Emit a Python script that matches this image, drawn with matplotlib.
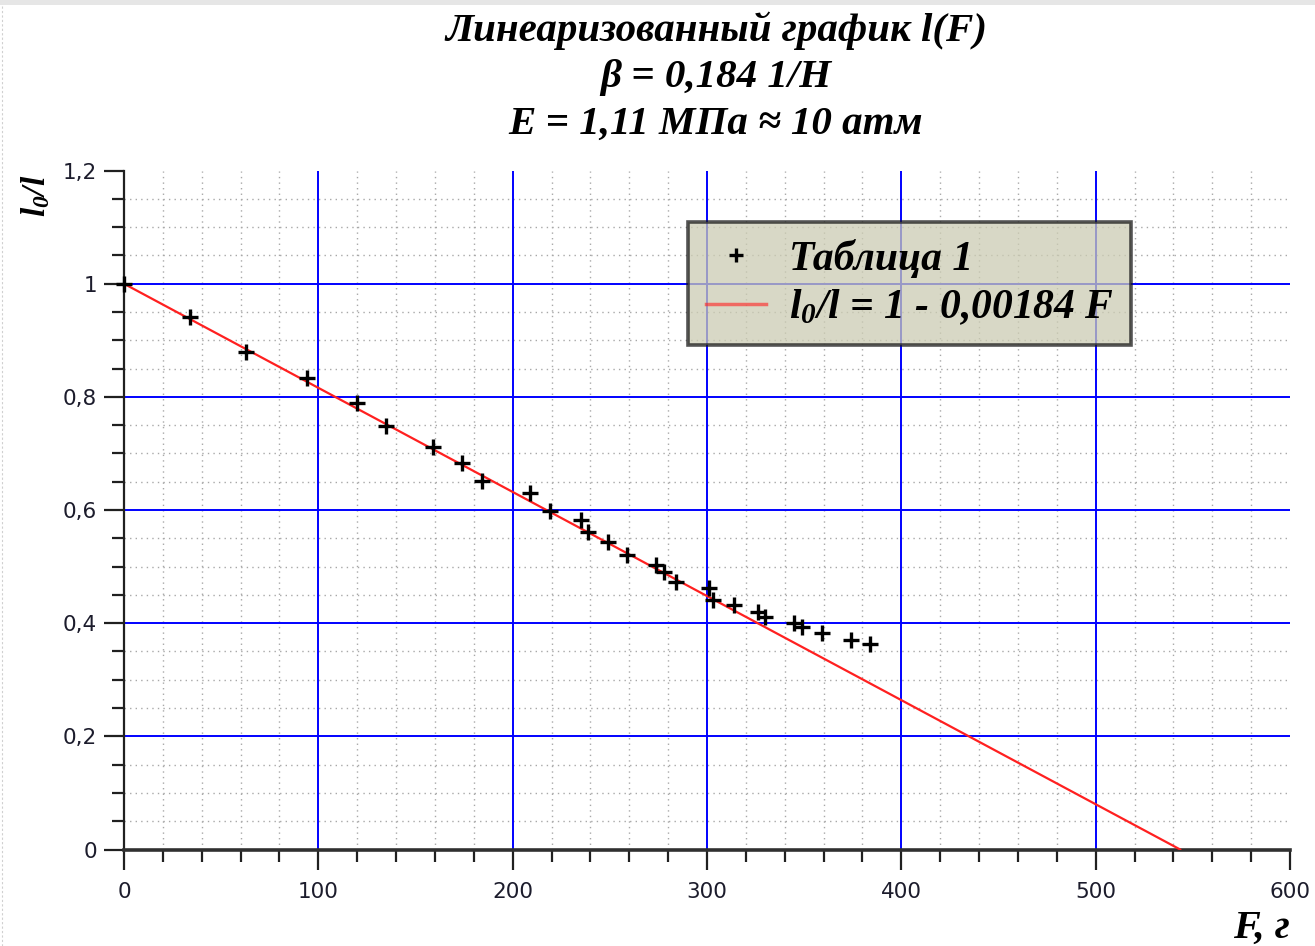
import numpy as np
import matplotlib
matplotlib.use("Agg")
import matplotlib.pyplot as plt
from matplotlib.ticker import MultipleLocator, FuncFormatter
from matplotlib.patches import Rectangle

# Measured points: load F (grams) and relative length l0/l
F_g = [0, 34, 63, 94, 120, 135, 159, 174, 184, 209, 219, 235, 239, 249,
       259, 274, 278, 284, 301, 303, 314, 326, 330, 345, 349, 359, 374, 384]
ratio = [1.000, 0.941, 0.880, 0.833, 0.790, 0.749, 0.712, 0.683, 0.652,
         0.631, 0.599, 0.582, 0.562, 0.544, 0.521, 0.503, 0.491, 0.473,
         0.462, 0.441, 0.432, 0.420, 0.411, 0.401, 0.394, 0.383, 0.370,
         0.363]

# Linear fit l0/l = a - b*F
fit_a = 1.0
fit_b = 0.00184

title_lines = ["Линеаризованный график l(F)",
               "β = 0,184 1/Н",
               "E = 1,11 МПа ≈ 10 атм"]
series_label = "Таблица 1"
fit_label = r"$l_0/l$ = 1 - 0,00184 F"
x_label = "F, г"
y_label = r"$l_0/l$"

plt.rcParams["mathtext.fontset"] = "custom"
plt.rcParams["mathtext.it"] = "Liberation Serif:bold:italic"
plt.rcParams["mathtext.rm"] = "Liberation Serif:bold:italic"
plt.rcParams["mathtext.bf"] = "Liberation Serif:bold:italic"

W, H = 1315, 946
fig = plt.figure(figsize=(W / 100, H / 100), dpi=100)
fig.patch.set_facecolor("white")

x0, x1 = 124, 1290
y_top, y_bot = 170.6, 849.5
ax = fig.add_axes([x0 / W, 1 - y_bot / H, (x1 - x0) / W, (y_bot - y_top) / H])

ax.set_xlim(0, 600)
ax.set_ylim(0, 1.2)

# grids: dotted minor, solid blue major
ax.xaxis.set_major_locator(MultipleLocator(100))
ax.xaxis.set_minor_locator(MultipleLocator(20))
ax.yaxis.set_major_locator(MultipleLocator(0.2))
ax.yaxis.set_minor_locator(MultipleLocator(0.05))
ax.grid(which="minor", color="#a8a8a8", linestyle=(0, (1, 3)), linewidth=1.0)
for xv in range(100, 600, 100):
    ax.axvline(xv, color="#0000ff", linewidth=1.4, zorder=0.6)
for yv in [0.2, 0.4, 0.6, 0.8, 1.0]:
    ax.axhline(yv, color="#0000ff", linewidth=1.4, zorder=0.6)
ax.set_axisbelow(True)

fmt = FuncFormatter(lambda v, p: (f"{v:g}").replace(".", ","))
ax.yaxis.set_major_formatter(fmt)
ax.xaxis.set_major_formatter(FuncFormatter(lambda v, p: f"{v:g}"))

for s in ["top", "right"]:
    ax.spines[s].set_visible(False)
ax.spines["left"].set_linewidth(1.6)
ax.spines["bottom"].set_linewidth(2.6)
ax.spines["bottom"].set_color("#303030")
ax.spines["left"].set_color("#202020")

ax.tick_params(which="major", direction="out", length=14.5, width=1.6,
               color="#202020", labelsize=15.5, labelcolor="#1c1c2c", pad=5)
ax.tick_params(which="minor", direction="out", length=8.5, width=1.6,
               color="#202020")
ax.tick_params(axis="x", which="major", pad=9)

# fitted line down to l0/l = 0
F_line = np.linspace(0, fit_a / fit_b, 200)
ax.plot(F_line, fit_a - fit_b * F_line, color="#ff2020", linewidth=1.6,
        label=fit_label, zorder=3)
ax.plot(F_g, ratio, linestyle="none", marker="+", markersize=12,
        markeredgewidth=2.4, color="black", label=series_label, zorder=4,
        clip_on=False)

handles, labels = ax.get_legend_handles_labels()
leg = ax.legend(handles[::-1], labels[::-1], loc="upper left",
                bbox_to_anchor=((688 - x0) / (x1 - x0), (y_bot - 222) / (y_bot - y_top)),
                prop={"family": "Liberation Serif", "weight": "bold",
                      "style": "italic", "size": 30},
                facecolor="#ccccb3", edgecolor="#1a1a1a", framealpha=0.75,
                fancybox=False, borderpad=0.42, labelspacing=0.22,
                handlelength=1.45, handletextpad=0.55, borderaxespad=0,
                markerscale=0.85)
leg.get_frame().set_linewidth(2.6)
for ln in leg.get_lines():
    if ln.get_linestyle() != "None":
        ln.set_alpha(0.6)
        ln.set_linewidth(2.5)

# titles
title_font = dict(family="Liberation Serif", weight="bold", style="italic",
                  size=29.5, color="black")
baselines = [41, 87, 134]
for line, yb in zip(title_lines, baselines):
    fig.text(716 / W, 1 - yb / H, line, ha="center", va="baseline", **title_font)

fig.text(1290 / W, 1 - 938 / H, x_label, ha="right", va="baseline",
         **dict(title_font, size=29))
fig.text(36 / W, 1 - 196 / H, y_label, ha="center", va="center",
         rotation=90, **dict(title_font, size=24))

# window frame decorations
fig.add_artist(Rectangle((0, 1 - 5 / H), 1, 5 / H, transform=fig.transFigure,
                         facecolor="#e6e6e6", edgecolor="none"))
fig.add_artist(plt.Line2D([2 / W, 2 / W], [0, 1 - 5 / H], transform=fig.transFigure,
                          color="#d0d0d0", linestyle=(0, (2, 2)), linewidth=0.8))

fig.savefig("out.png", dpi=100, facecolor="white")
